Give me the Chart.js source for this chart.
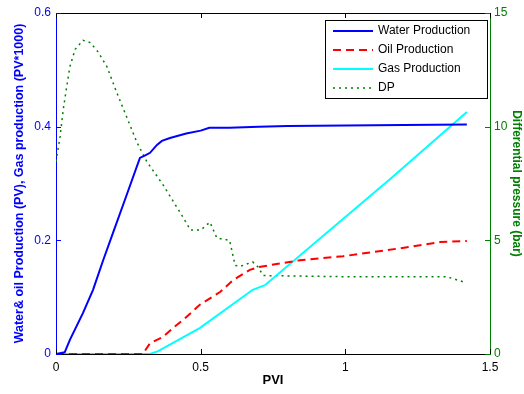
<!DOCTYPE html>
<html>
<head>
<meta charset="utf-8">
<script src="https://cdn.jsdelivr.net/npm/chart.js@4"></script>
<style>
  body { margin: 0; background: #fff; }
  canvas { display: block; }
</style>
</head>
<body>
<canvas id="chart" width="524" height="394"></canvas>
<script>
// data
const waterPvi = [0, 0.03, 0.048, 0.093, 0.128, 0.163, 0.197, 0.238, 0.29, 0.31, 0.325, 0.349, 0.366, 0.394, 0.45, 0.5, 0.53, 0.6, 0.7, 0.8, 1.0, 1.2, 1.42];
const waterProd = [0, 0.003, 0.025, 0.072, 0.113, 0.165, 0.213, 0.271, 0.345, 0.35, 0.354, 0.368, 0.375, 0.38, 0.388, 0.393, 0.398, 0.398, 0.4, 0.401, 0.402, 0.403, 0.404];

const oilPvi = [0, 0.30, 0.325, 0.37, 0.405, 0.446, 0.498, 0.567, 0.612, 0.67, 0.7, 0.843, 0.992, 1.189, 1.327, 1.42];
const oilProd = [0, 0, 0.019, 0.03, 0.046, 0.063, 0.087, 0.109, 0.13, 0.148, 0.153, 0.165, 0.172, 0.186, 0.197, 0.199];

const gasPvi = [0, 0.325, 0.353, 0.498, 0.68, 0.695, 0.722, 1.155, 1.42];
const gasProd = [0, 0, 0.005, 0.046, 0.113, 0.116, 0.121, 0.308, 0.426];

const dpPvi = [0, 0.014, 0.025, 0.037, 0.048, 0.066, 0.093, 0.118, 0.145, 0.176, 0.21, 0.245, 0.28, 0.314, 0.37, 0.435, 0.465, 0.5, 0.532, 0.556, 0.6, 0.619, 0.636, 0.68, 0.698, 0.716, 1.0, 1.35, 1.414];
const dpBar = [8.46, 9.56, 10.75, 11.76, 12.64, 13.4, 13.8, 13.7, 13.3, 12.64, 11.5, 10.4, 9.3, 8.46, 7.44, 6.1, 5.45, 5.45, 5.8, 5.1, 5.0, 3.9, 3.85, 4.05, 3.83, 3.45, 3.4, 3.4, 3.15];

const seriesNames = ['Water Production', 'Oil Production', 'Gas Production', 'DP'];

const FONT = "'Liberation Sans', Arial, sans-serif";
const BLUE = '#0000ff';
const GREEN = '#008000';

function pts(xs, ys) {
  return xs.map((x, i) => ({ x: x, y: ys[i] }));
}

// inward tick marks, top border and the boxed legend
const matlabAxes = {
  id: 'matlabAxes',
  afterDraw(chart) {
    const ctx = chart.ctx;
    const area = chart.chartArea;
    const sx = chart.scales.x, sy = chart.scales.y, sy1 = chart.scales.y1;
    ctx.save();
    ctx.lineWidth = 1;

    // top border
    ctx.strokeStyle = '#000';
    ctx.beginPath();
    ctx.moveTo(area.left, area.top + 0.5);
    ctx.lineTo(area.right, area.top + 0.5);
    ctx.stroke();

    // x ticks, bottom and top
    sx.ticks.forEach(t => {
      const px = Math.round(sx.getPixelForValue(t.value)) + 0.5;
      ctx.beginPath();
      ctx.moveTo(px, area.bottom);
      ctx.lineTo(px, area.bottom - 5);
      ctx.moveTo(px, area.top);
      ctx.lineTo(px, area.top + 5);
      ctx.stroke();
    });

    // left axis ticks (mirrored on the right)
    ctx.strokeStyle = BLUE;
    sy.ticks.forEach(t => {
      const py = Math.round(sy.getPixelForValue(t.value)) + 0.5;
      ctx.beginPath();
      ctx.moveTo(area.left, py);
      ctx.lineTo(area.left + 5, py);
      ctx.moveTo(area.right, py);
      ctx.lineTo(area.right - 5, py);
      ctx.stroke();
    });

    // right axis ticks
    ctx.strokeStyle = GREEN;
    sy1.ticks.forEach(t => {
      const py = Math.round(sy1.getPixelForValue(t.value)) + 0.5;
      ctx.beginPath();
      ctx.moveTo(area.right, py);
      ctx.lineTo(area.right - 5, py);
      ctx.stroke();
    });

    // legend box
    const bx = 325, by = 20, bw = 162, bh = 78;
    ctx.fillStyle = '#fff';
    ctx.fillRect(bx, by, bw, bh);
    ctx.strokeStyle = '#000';
    ctx.strokeRect(bx + 0.5, by + 0.5, bw, bh);
    ctx.font = '12px ' + FONT;
    ctx.textBaseline = 'middle';
    chart.data.datasets.forEach((ds, i) => {
      const ly = by + 11 + i * 19;
      ctx.strokeStyle = ds.borderColor;
      ctx.lineWidth = ds.borderWidth;
      ctx.setLineDash(ds.borderDash || []);
      ctx.beginPath();
      ctx.moveTo(bx + 8, ly);
      ctx.lineTo(bx + 48, ly);
      ctx.stroke();
      ctx.setLineDash([]);
      ctx.fillStyle = '#000';
      ctx.fillText(ds.label, bx + 53, ly);
    });
    ctx.restore();
  }
};

new Chart(document.getElementById('chart'), {
  type: 'line',
  data: {
    datasets: [{
      label: seriesNames[0],
      data: pts(waterPvi, waterProd),
      borderColor: BLUE,
      borderWidth: 2,
      yAxisID: 'y'
    }, {
      label: seriesNames[1],
      data: pts(oilPvi, oilProd),
      borderColor: '#ff0000',
      borderWidth: 2,
      borderDash: [8, 5],
      yAxisID: 'y'
    }, {
      label: seriesNames[2],
      data: pts(gasPvi, gasProd),
      borderColor: '#00ffff',
      borderWidth: 2,
      yAxisID: 'y'
    }, {
      label: seriesNames[3],
      data: pts(dpPvi, dpBar),
      borderColor: GREEN,
      borderWidth: 1.5,
      borderDash: [2, 4],
      yAxisID: 'y1'
    }]
  },
  options: {
    responsive: false,
    animation: false,
    layout: { padding: { top: 13, left: 0, right: 0, bottom: 0 } },
    elements: { point: { radius: 0 }, line: { tension: 0 } },
    plugins: {
      legend: { display: false },
      tooltip: { enabled: false }
    },
    scales: {
      x: {
        type: 'linear',
        min: 0,
        max: 1.5,
        ticks: {
          stepSize: 0.5, color: '#000', font: { family: FONT, size: 12 }, padding: 6, maxRotation: 0,
          callback: v => String(v)
        },
        grid: { display: false, drawTicks: false },
        border: { color: '#000' },
        title: { display: true, text: 'PVI', color: '#000', font: { family: FONT, size: 13, weight: 'bold' }, padding: { top: 0, bottom: 6 } },
        afterFit(scale) { scale.height = 40; }
      },
      y: {
        position: 'left',
        min: 0,
        max: 0.6,
        ticks: { stepSize: 0.2, color: BLUE, font: { family: FONT, size: 12 }, padding: 5 },
        grid: { display: false, drawTicks: false },
        border: { color: BLUE },
        title: { display: true, text: 'Water& oil Production (PV), Gas production (PV*1000)', color: BLUE, font: { family: FONT, size: 12.5, weight: 'bold' }, padding: { top: 12, bottom: 0 } },
        afterFit(scale) { scale.width = 56; }
      },
      y1: {
        position: 'right',
        min: 0,
        max: 15,
        ticks: { stepSize: 5, color: GREEN, font: { family: FONT, size: 12 }, padding: 4 },
        grid: { display: false, drawTicks: false },
        border: { color: GREEN },
        title: { display: true, text: 'Differential pressure (bar)', color: GREEN, font: { family: FONT, size: 12, weight: 'bold' }, padding: { top: 0, bottom: 0 } },
        afterFit(scale) { scale.width = 34; }
      }
    }
  },
  plugins: [matlabAxes]
});
</script>
</body>
</html>
